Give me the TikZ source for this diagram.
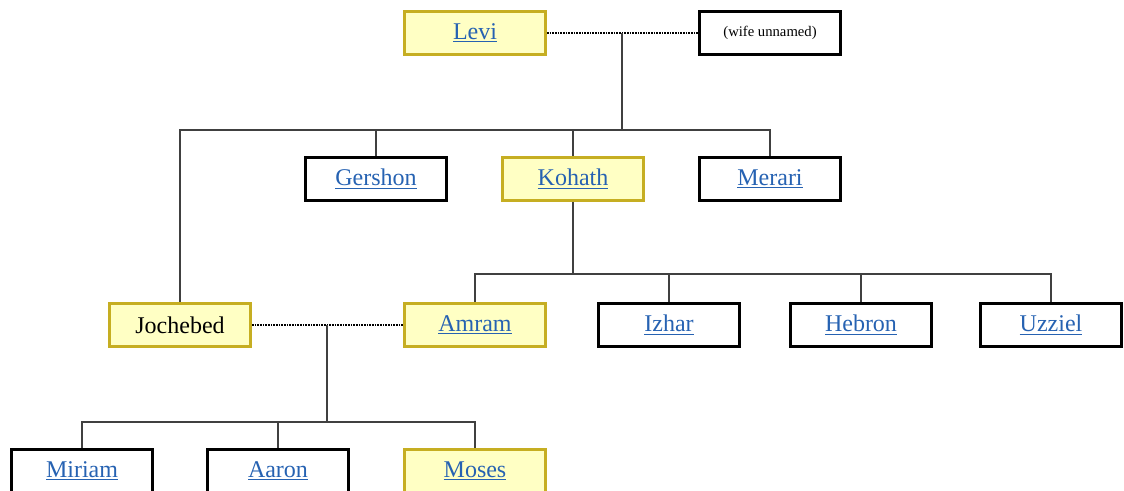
\documentclass[tikz,border=0pt]{standalone}
\usepackage{fontspec}
\setmainfont{Liberation Serif}
\definecolor{linkblue}{RGB}{38,98,178}
\definecolor{goldline}{RGB}{198,174,34}
\definecolor{paleyellow}{RGB}{255,255,196}
\newcommand{\lnk}[1]{\textcolor{linkblue}{\underline{#1}}}

\begin{document}
\begin{tikzpicture}[x=0.75pt, y=-0.75pt, align=center,
	main/.style = {draw, line width=2.2pt, minimum width=106pt, minimum height=32pt, inner sep=0pt, font=\fontsize{18}{20}\selectfont},
	kin/.style = {main, draw=goldline, fill=paleyellow},
	other/.style = {main, draw=black},
	wed/.style = {dash pattern=on 1.2pt off 0.8pt, line width=1.1pt, black},
	branch/.style = {line width=0.8pt, black!75}]
	\useasboundingbox (0,0) rectangle (1124,491);
	\clip (0,0) rectangle (1124,491);
	% first generation
	\node[kin] (levi) at (475,33) {\lnk{Levi}};
	\node[other, font=\fontsize{11}{13}\selectfont] (wife) at (770,33) {(wife unnamed)};
	% second generation
	\node[kin] (jochebed) at (180,325) {Jochebed};
	\node[other] (gershon) at (376,179) {\lnk{Gershon}};
	\node[kin] (kohath) at (573,179) {\lnk{Kohath}};
	\node[other] (merari) at (770,179) {\lnk{Merari}};
	% third generation
	\node[kin] (amram) at (475,325) {\lnk{Amram}};
	\node[other] (izhar) at (669,325) {\lnk{Izhar}};
	\node[other] (hebron) at (861,325) {\lnk{Hebron}};
	\node[other] (uzziel) at (1051,325) {\lnk{Uzziel}};
	% fourth generation
	\node[other] (miriam) at (82,471) {\lnk{Miriam}};
	\node[other] (aaron) at (278,471) {\lnk{Aaron}};
	\node[kin] (moses) at (475,471) {\lnk{Moses}};
	% junctions
	\coordinate (levitie) at (622,33);
	\coordinate (levibar) at (622,130);
	\coordinate (kohathbar) at (573,274);
	\coordinate (amramtie) at (327,325);
	\coordinate (amrambar) at (327,422);
	% Levi
	\draw[wed] (levi) -- (wife);
	\draw[branch] (levitie) -- (levibar);
	\draw[branch] (levibar) -| (jochebed);
	\draw[branch] (levibar) -| (gershon);
	\draw[branch] (levibar) -| (kohath);
	\draw[branch] (levibar) -| (merari);
	% Kohath
	\draw[branch] (kohath) -- (kohathbar);
	\draw[branch] (kohathbar) -| (amram);
	\draw[branch] (kohathbar) -| (izhar);
	\draw[branch] (kohathbar) -| (hebron);
	\draw[branch] (kohathbar) -| (uzziel);
	% Amram
	\draw[wed] (jochebed) -- (amram);
	\draw[branch] (amramtie) -- (amrambar);
	\draw[branch] (amrambar) -| (miriam);
	\draw[branch] (amrambar) -| (aaron);
	\draw[branch] (amrambar) -| (moses);
\end{tikzpicture}
\end{document}
